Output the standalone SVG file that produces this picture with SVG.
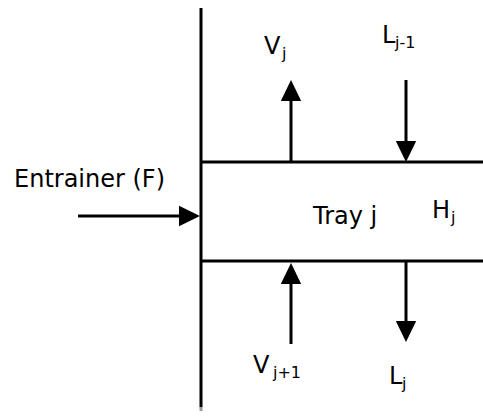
<svg xmlns="http://www.w3.org/2000/svg" width="483" height="417" viewBox="0 0 483 417">
<style>
.ln{stroke:#000;stroke-width:3;fill:none}
.t{font-family:"DejaVu Sans",sans-serif;font-size:24px;fill:#000}
.s{font-family:"DejaVu Sans",sans-serif;font-size:16px;fill:#000}
</style>
<defs>
<marker id="ah" markerWidth="8" markerHeight="8" refX="5" refY="4" orient="auto" markerUnits="strokeWidth">
<path d="M0,0.6 L7,4 L0,7.4 Z" fill="#000"/>
</marker>
</defs>
<g id="column">
<line class="ln" x1="201" y1="8" x2="201" y2="407"/>
<line x1="201" y1="407" x2="201" y2="411" stroke="#999" stroke-width="3"/>
</g>
<g id="tray">
<line class="ln" x1="201" y1="162" x2="483" y2="162"/>
<line class="ln" x1="201" y1="261" x2="483" y2="261"/>
<text class="t" x="313" y="224">Tray j</text>
<text class="t" x="432" y="218">H</text><text class="s" x="451" y="223">j</text>
</g>
<g id="connectors">
<line class="ln" x1="78" y1="216" x2="194" y2="216" marker-end="url(#ah)"/>
<line class="ln" x1="291" y1="162" x2="291" y2="86" marker-end="url(#ah)"/>
<line class="ln" x1="406" y1="80" x2="406" y2="156" marker-end="url(#ah)"/>
<line class="ln" x1="291" y1="344" x2="291" y2="269" marker-end="url(#ah)"/>
<line class="ln" x1="406" y1="261" x2="406" y2="336" marker-end="url(#ah)"/>
</g>
<g id="entrainer">
<text class="t" x="14" y="187">Entrainer (F)</text>
</g>
<g id="vj">
<text class="t" x="264" y="54">V</text><text class="s" x="282" y="59">j</text>
</g>
<g id="lj1">
<text class="t" x="382" y="43">L</text><text class="s" x="395" y="48">j-1</text>
</g>
<g id="vj1">
<text class="t" x="253" y="373">V</text><text class="s" x="273" y="378">j+1</text>
</g>
<g id="lj">
<text class="t" x="389" y="384">L</text><text class="s" x="402" y="389">j</text>
</g>
</svg>
